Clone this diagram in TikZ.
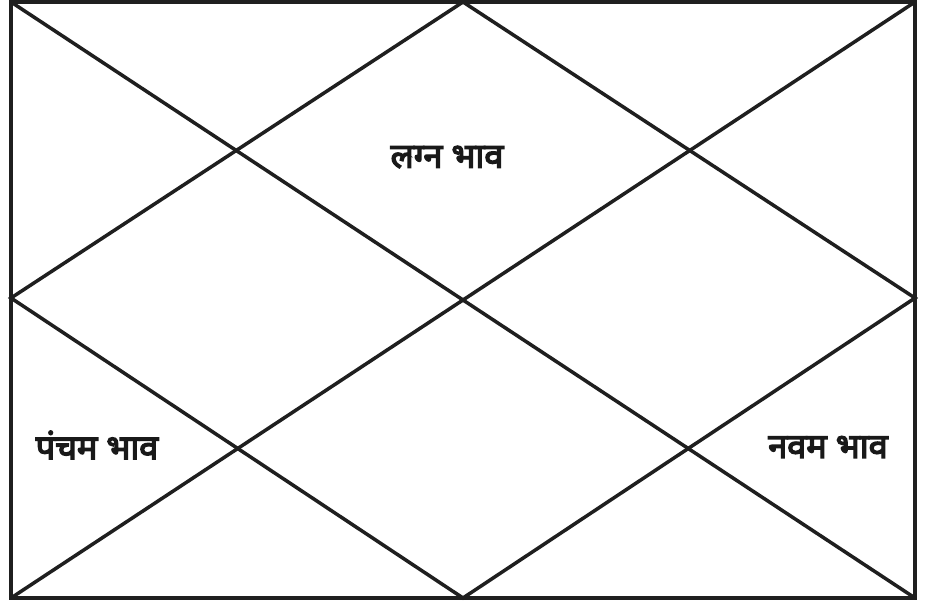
\documentclass[tikz,border=0pt]{standalone}
\usepackage{fontspec}
\newfontfamily\devfont[Script=Devanagari,FakeBold=4]{Noto Sans}
\usetikzlibrary{positioning}
\tikzset{
  chartline/.style={line width=2pt,draw=black!88},
  bhavlabel/.style={font=\devfont\fontsize{19.5}{23}\selectfont,text=black!90,inner sep=0pt}
}
\begin{document}
\begin{tikzpicture}[x=0.02cm,y=-0.02cm]
  \useasboundingbox (0,0) rectangle (930,601);
  % corners and midpoints of the frame
  \coordinate (tl) at (11,2);
  \coordinate (tr) at (915,2);
  \coordinate (bl) at (11,598);
  \coordinate (br) at (915,598);
  \coordinate (tm) at (463,2);
  \coordinate (bm) at (463,598);
  \coordinate (lm) at (11,298);
  \coordinate (rm) at (915,298);
  \draw[chartline,line width=2.4pt] (tl) rectangle (br);
  \draw[chartline] (tl) -- (br);
  \draw[chartline] (tr) -- (bl);
  \draw[chartline] (tm) -- (rm) -- (bm) -- (lm) -- cycle;
  \node[bhavlabel] (lagna) at (447,157) {लग्न भाव};
  \node[bhavlabel] (panchama) at (97,445) {पंचम भाव};
  \node[bhavlabel] (navama) at (828,447) {नवम भाव};
\end{tikzpicture}
\end{document}
